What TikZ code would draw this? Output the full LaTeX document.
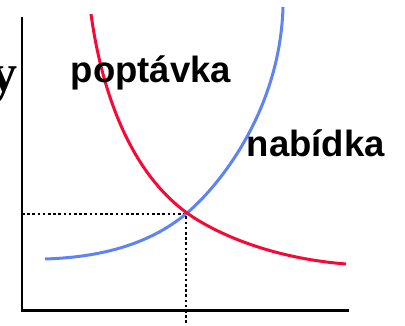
\documentclass[tikz,border=0pt]{standalone}
\usepackage{fontspec}
\setmainfont{Liberation Sans}
\newfontfamily\serifbold{Liberation Serif}
\definecolor{demandred}{RGB}{245,10,55}
\definecolor{supplyblue}{RGB}{95,130,245}
\tikzset{curve/.style={line width=3pt},
	guide/.style={black,line width=2.6pt,dash pattern=on 2.6pt off 2.6pt},
	lbl/.style={anchor=base west,inner sep=0pt,font=\fontsize{36.5}{40}\selectfont\bfseries}}

\begin{document}
\begin{tikzpicture}[x=1pt,y=-1pt]
				\useasboundingbox (0,0) rectangle (405,326);
				\coordinate (o) at (22,310.5);
				\coordinate (e) at (186,214);
				% axes
				\draw[line width=2.6pt] (22,17) -- (o) -- (349,310.5);
				% equilibrium
				\draw[guide] (o|-e) -- (e) -- (e|-0,326);
				\draw[curve,supplyblue] (45,259) .. controls (110,257) and (155,240) .. (187,213) .. controls (220,185) and (280,110) .. (283,7);
				\draw[curve,demandred] (91,14) .. controls (100,80) and (125,168) .. (187,213) .. controls (215,233) and (270,258) .. (346,264);
				\node[lbl] (d) at (70.5,83){popt\'avka};
				\node[lbl] (s) at (246.5,157){nab\'idka};
				\node[anchor=base east,inner sep=0pt,font=\fontsize{54}{56}\serifbold\bfseries] (y) at (18,92){y};
			\end{tikzpicture}
\end{document}
